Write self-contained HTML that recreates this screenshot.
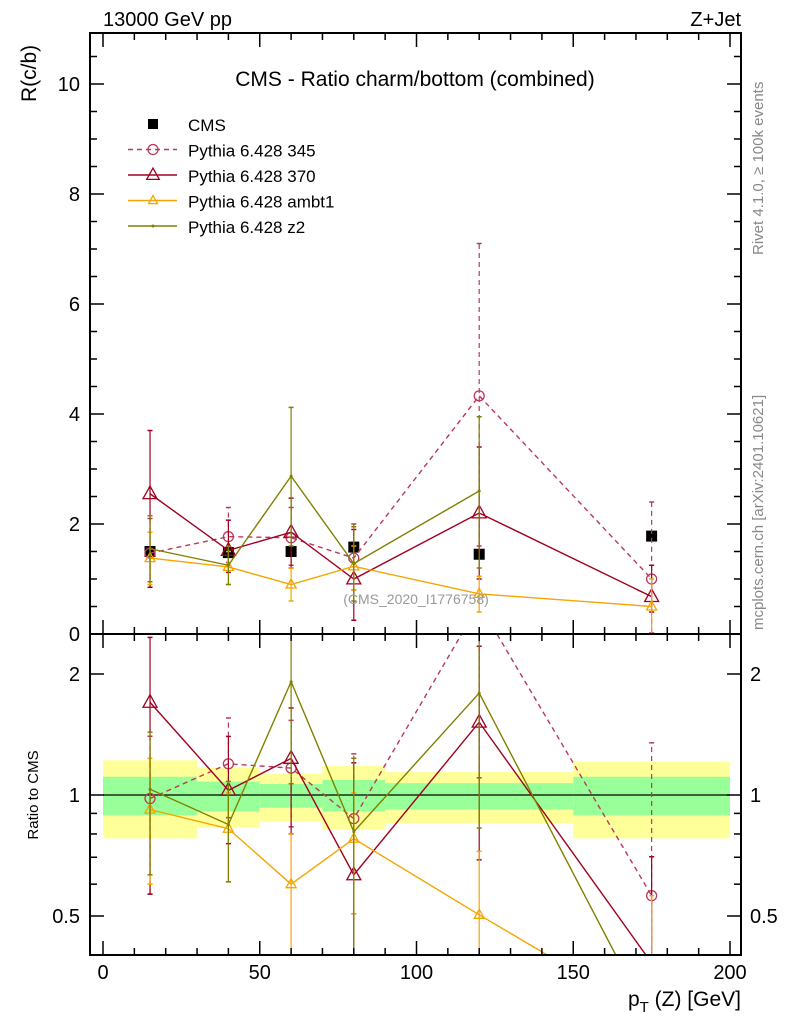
<!DOCTYPE html>
<html><head><meta charset="utf-8"><style>
html,body{margin:0;background:#fff;width:786px;height:1024px;overflow:hidden;}
svg{display:block;font-family:"Liberation Sans",Arial,sans-serif;}
</style></head><body>
<svg id="c" width="786" height="1024" viewBox="0 0 786 1024" xmlns="http://www.w3.org/2000/svg"></svg>
<script>
const xCenters=[15,40,60,80,120,175];
const binEdges=[0,30,50,70,90,150,200];
const cmsVals=[1.5,1.48,1.5,1.58,1.45,1.78];
const s345=[1.47,1.77,1.75,1.38,4.33,1.0];
const s345Lo=[0.85,1.3,1.25,0.8,1.6,0.02];
const s345Hi=[2.1,2.3,2.3,2.0,7.1,2.4];
const s370=[2.55,1.52,1.85,1.0,2.2,0.68];
const s370Lo=[0.85,1.12,1.2,0.25,1.0,0.4];
const s370Hi=[3.7,2.07,2.47,1.9,3.4,1.25];
const sAmbt1=[1.38,1.22,0.9,1.23,0.73,0.5];
const sAmbt1Lo=[0.9,0.9,0.6,0.8,0.4,0.0];
const sAmbt1Hi=[1.85,1.5,1.2,1.6,1.05,1.0];
const sZ2=[1.55,1.25,2.87,1.28,2.6,0.48];
const sZ2Lo=[0.95,0.9,1.6,0.6,1.2,0.3];
const sZ2Hi=[2.15,1.6,4.12,1.95,3.95,0.7];
const yellowHi=[1.22,1.17,1.13,1.18,1.14,1.21];
const yellowLo=[0.78,0.83,0.86,0.82,0.85,0.78];
const greenHi=[1.11,1.08,1.065,1.09,1.07,1.11];
const greenLo=[0.89,0.91,0.93,0.91,0.92,0.89];
const xTicks=[0,50,100,150,200];
const yTicks=[0,2,4,6,8,10];
const rTicks=[0.5,1,2];

const svg=document.getElementById('c');
const NS='http://www.w3.org/2000/svg';
const L=90,R=741,T=33,M=634,B=955;
const X=v=>103+v*(730-103)/200;
const Y=v=>634-v*55;
const RMIN=0.40,RMAX=2.51;
const Yr=v=>{const c=Math.max(RMIN*0.5,Math.min(RMAX*1.5,v));return 795-Math.log2(c)*121;};
function el(tag,attrs,parent,text){const e=document.createElementNS(NS,tag);for(const k in attrs)e.setAttribute(k,attrs[k]);if(text!==undefined)e.textContent=text;(parent||svg).appendChild(e);return e;}

const defs=el('defs',{});
const cp1=el('clipPath',{id:'cm'},defs);el('rect',{x:L,y:T,width:R-L,height:M-T},cp1);
const cp2=el('clipPath',{id:'cr'},defs);el('rect',{x:L,y:M,width:R-L,height:B-M},cp2);

const gBand=el('g',{'clip-path':'url(#cr)'});


for(let i=0;i<xCenters.length;i++){
  const x0=X(binEdges[i]),x1=X(binEdges[i+1]);
  const y=el('rect',{x:x0,y:Yr(yellowHi[i]),width:x1-x0,height:Yr(yellowLo[i])-Yr(yellowHi[i]),fill:'#ffff99'},gBand);
  
  
  const g=el('rect',{x:x0,y:Yr(greenHi[i]),width:x1-x0,height:Yr(greenLo[i])-Yr(greenHi[i]),fill:'#99ff99'},gBand);
  
  
}
el('line',{x1:X(0),x2:X(200),y1:Yr(1),y2:Yr(1),stroke:'#000','stroke-width':1.2},gBand);

const series=[
 {name:'345',v:s345,lo:s345Lo,hi:s345Hi,col:'#b83a5a',dash:'5,4',mk:'circle',ms:5,mainN:6},
 {name:'370',v:s370,lo:s370Lo,hi:s370Hi,col:'#a00020',dash:'',mk:'tri',ms:7,mainN:6},
 {name:'ambt1',v:sAmbt1,lo:sAmbt1Lo,hi:sAmbt1Hi,col:'#f5a500',dash:'',mk:'tri',ms:5,mainN:6},
 {name:'z2',v:sZ2,lo:sZ2Lo,hi:sZ2Hi,col:'#808000',dash:'',mk:'dot',ms:1.5,mainN:5}
];
function marker(g,mk,x,y,ms,col){
  if(mk==='circle')return el('circle',{cx:x,cy:y,r:ms,fill:'none',stroke:col,'stroke-width':1.3},g);
  if(mk==='tri')return el('polygon',{points:`${x},${y-ms*1.1} ${x-ms},${y+ms*0.7} ${x+ms},${y+ms*0.7}`,fill:'none',stroke:col,'stroke-width':1.3},g);
  return el('circle',{cx:x,cy:y,r:ms,fill:col},g);
}
function drawSeries(s,Yf,clip,ratio){
  const g=el('g',{'clip-path':`url(#${clip})`});
  
  
  const f=i=>ratio?1/cmsVals[i]:1;
  const n=ratio?xCenters.length:s.mainN;
  for(let i=0;i<n;i++){
    const x=X(xCenters[i]);
    const e=el('line',{x1:x,x2:x,y1:Yf(s.lo[i]*f(i)),y2:Yf(s.hi[i]*f(i)),stroke:s.col,'stroke-width':1.2,'stroke-dasharray':s.dash},g);
    
    
    el('line',{x1:x-2.5,x2:x+2.5,y1:Yf(s.lo[i]*f(i)),y2:Yf(s.lo[i]*f(i)),stroke:s.col,'stroke-width':1.5},g);
    el('line',{x1:x-2.5,x2:x+2.5,y1:Yf(s.hi[i]*f(i)),y2:Yf(s.hi[i]*f(i)),stroke:s.col,'stroke-width':1.5},g);
  }
  const pts=xCenters.slice(0,n).map((c,i)=>X(c)+','+Yf(s.v[i]*f(i))).join(' ');
  const pl=el('polyline',{points:pts,fill:'none',stroke:s.col,'stroke-width':1.4,'stroke-dasharray':s.dash},g);
  
  
  for(let i=0;i<n;i++){
    const m=marker(g,s.mk,X(xCenters[i]),Yf(s.v[i]*f(i)),s.ms,s.col);
    
    
  }
}
const gc=el('g',{'clip-path':'url(#cm)'});


for(let i=0;i<xCenters.length;i++){
  const p=el('rect',{x:X(xCenters[i])-5.5,y:Y(cmsVals[i])-5.5,width:11,height:11,fill:'#000'},gc);
  
  
}
series.forEach(s=>{drawSeries(s,Y,'cm',false);drawSeries(s,Yr,'cr',true);});

el('rect',{x:L,y:T,width:R-L,height:M-T,fill:'none',stroke:'#000','stroke-width':2});
el('rect',{x:L,y:M,width:R-L,height:B-M,fill:'none',stroke:'#000','stroke-width':2});

const ax=el('g',{stroke:'#000','stroke-width':1.5});
for(let v=0;v<=200;v+=10){
  const x=X(v),len=v%50===0?14:7;
  el('line',{x1:x,x2:x,y1:B,y2:B-len},ax);el('line',{x1:x,x2:x,y1:M,y2:M-len},ax);
  el('line',{x1:x,x2:x,y1:M,y2:M+len},ax);el('line',{x1:x,x2:x,y1:T,y2:T+len},ax);
}
for(let v=0;v<=10.5;v+=0.5){
  const y=Y(v),len=(v%2===0)?14:7;
  el('line',{x1:L,x2:L+len,y1:y,y2:y},ax);el('line',{x1:R,x2:R-len,y1:y,y2:y},ax);
}
for(let d=0;d<3;d++){const base=[0.1,1,10][d];for(let k=1;k<10;k++){const v=base*k;if(v<RMIN||v>RMAX)continue;const y=Yr(v),len=(v===0.5||v===1||v===2)?14:7;
  el('line',{x1:L,x2:L+len,y1:y,y2:y},ax);el('line',{x1:R,x2:R-len,y1:y,y2:y},ax);}}

const tx=el('g',{'font-size':'20',fill:'#000'});
xTicks.forEach(v=>{const t=el('text',{x:X(v),y:979,'text-anchor':'middle'},tx,String(v));});
yTicks.forEach(v=>{const t=el('text',{x:80,y:Y(v)+7,'text-anchor':'end'},tx,String(v));});
rTicks.forEach(v=>{[[80,'end'],[750,'start']].forEach(([x,a])=>{const t=el('text',{x:x,y:Yr(v)+7,'text-anchor':a},tx,String(v));});});

function txt(name,attrs,s){const t=el('text',attrs,null,s);return t;}
txt('top-left-label',{x:103,y:26,'font-size':20},'13000 GeV pp');
txt('top-right-label',{x:741,y:26,'font-size':20,'text-anchor':'end'},'Z+Jet');
txt('plot-title',{x:415,y:86,'font-size':21,'text-anchor':'middle'},'CMS - Ratio charm/bottom (combined)');
txt('y-axis-title',{x:0,y:0,'font-size':21,transform:'translate(36,102) rotate(-90)'},'R(c/b)');
txt('ratio-axis-title',{x:0,y:0,'font-size':15,'text-anchor':'middle',transform:'translate(38,795) rotate(-90)'},'Ratio to CMS');
const xt=txt('x-axis-title',{x:741,y:1006,'font-size':21,'text-anchor':'end'},'');
xt.innerHTML='p<tspan dy="6" font-size="15">T</tspan><tspan dy="-6"> (Z) [GeV]</tspan>';
txt('analysis-id',{x:416,y:604,'font-size':14,fill:'#999','text-anchor':'middle'},'(CMS_2020_I1776758)');
txt('rivet-label',{x:0,y:0,'font-size':15,fill:'#888',transform:'translate(763,255) rotate(-90)'},'Rivet 4.1.0, ≥ 100k events');
txt('mcplots-label',{x:0,y:0,'font-size':15,fill:'#888',transform:'translate(763,630) rotate(-90)'},'mcplots.cern.ch [arXiv:2401.10621]');

const lg=el('g',{});


const entries=[['CMS',null],['Pythia 6.428 345',series[0]],['Pythia 6.428 370',series[1]],['Pythia 6.428 ambt1',series[2]],['Pythia 6.428 z2',series[3]]];
entries.forEach((e,i)=>{
  const y=124+i*25.5;
  const g=el('g',{},lg);
  
  
  if(!e[1]){el('rect',{x:148,y:y-5,width:10,height:10,fill:'#000'},g);}
  else{const s=e[1];el('line',{x1:128,x2:177,y1:y,y2:y,stroke:s.col,'stroke-width':1.4,'stroke-dasharray':s.dash},g);marker(g,s.mk,153,y,s.mk==='tri'?s.ms*0.9:s.ms,s.col);}
  el('text',{x:188,y:y+7,'font-size':17},g,e[0]);
});
</script>
</body></html>
